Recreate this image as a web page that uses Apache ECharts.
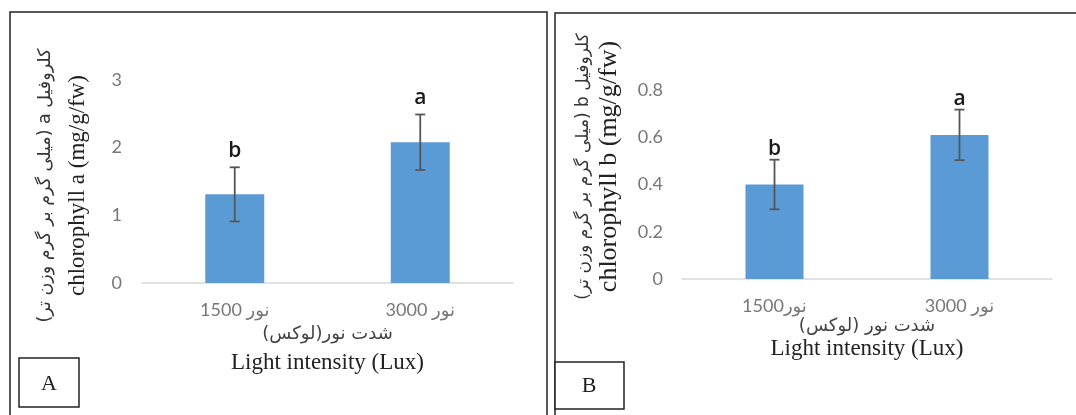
<!DOCTYPE html>
<html>
<head>
<meta charset="utf-8">
<script src="https://cdn.jsdelivr.net/npm/echarts@6/dist/echarts.min.js"></script>
<style>html,body{margin:0;padding:0;background:#fff;}#c{width:1076px;height:415px;}</style>
</head>
<body>
<div id="c"></div>
<script>
// ---- data ----
const categoriesA = ['1500 نور', '3000 نور'];
const categoriesB = ['1500نور', '3000 نور'];
const chlorophyllA = [1.31, 2.08];
const chlorophyllAErr = [0.40, 0.41];
const chlorophyllB = [0.40, 0.61];
const chlorophyllBErr = [0.105, 0.107];
const lettersA = ['b', 'a'];
const lettersB = ['b', 'a'];
const yTicksA = { min: 0, max: 3, interval: 1 };
const yTicksB = { min: 0, max: 0.8, interval: 0.2 };

const RLE = '\u202B', PDF = '\u202C';
const faFont = '"DejaVu Sans", "Noto Sans", sans-serif';
const serif = '"Liberation Serif", "DejaVu Serif", serif';
const tickFont = 'Lato, "DejaVu Sans", sans-serif';

const chart = echarts.init(document.getElementById('c'));

function errSeries(xi, yi, vals, errs, letters, letterGap) {
  return {
    type: 'custom', xAxisIndex: xi, yAxisIndex: yi, z: 5,
    data: vals.map((v, i) => [i, v, errs[i], letters[i]]),
    renderItem: function (params, api) {
      const x = api.value(0), v = api.value(1), e = api.value(2);
      const hi = api.coord([x, v + e]);
      const lo = api.coord([x, v - e]);
      const cw = 5;
      const st = { stroke: '#555', lineWidth: 1.8 };
      return {
        type: 'group',
        children: [
          { type: 'line', shape: { x1: hi[0], y1: hi[1], x2: lo[0], y2: lo[1] }, style: st },
          { type: 'line', shape: { x1: hi[0] - cw, y1: hi[1], x2: hi[0] + cw, y2: hi[1] }, style: st },
          { type: 'line', shape: { x1: lo[0] - cw, y1: lo[1], x2: lo[0] + cw, y2: lo[1] }, style: st },
          { type: 'text', x: hi[0], y: hi[1] - letterGap,
            style: { text: letters[params.dataIndex], fill: '#1a1a1a', font: '600 21px "Open Sans", sans-serif', align: 'center', verticalAlign: 'middle' } }
        ]
      };
    }
  };
}

const axisLineStyle = { color: '#d9d9d9', width: 1.5 };

const option = {
  animation: false,
  grid: [
    { left: 142, top: 80, width: 371, height: 203, outerBoundsMode: 'none' },
    { left: 682, top: 90, width: 370, height: 189, outerBoundsMode: 'none' }
  ],
  xAxis: [
    {
      type: 'category', gridIndex: 0, data: categoriesA,
      axisLine: { lineStyle: axisLineStyle },
      axisTick: { length: 5, lineStyle: axisLineStyle },
      axisLabel: { color: '#777', fontFamily: tickFont, fontSize: 18, margin: 18 },
      name: '{fa|' + RLE + 'شدت نور(لوکس)' + PDF + '}\n{en|Light intensity (Lux)}',
      nameLocation: 'middle', nameGap: 37,
      nameTextStyle: {
        align: 'center', verticalAlign: 'top',
        rich: {
          fa: { fontFamily: faFont, fontSize: 18, color: '#444', lineHeight: 28, align: 'center' },
          en: { fontFamily: serif, fontSize: 23, color: '#222', lineHeight: 30, align: 'center' }
        }
      }
    },
    {
      type: 'category', gridIndex: 1, data: categoriesB,
      axisLine: { lineStyle: axisLineStyle },
      axisTick: { length: 5, lineStyle: axisLineStyle },
      axisLabel: { color: '#777', fontFamily: tickFont, fontSize: 18, margin: 18 },
      name: '{fa|' + RLE + 'شدت نور (لوکس)' + PDF + '}\n{en|Light intensity (Lux)}',
      nameLocation: 'middle', nameGap: 36,
      nameTextStyle: {
        align: 'center', verticalAlign: 'top',
        rich: {
          fa: { fontFamily: faFont, fontSize: 18, color: '#444', lineHeight: 22, align: 'center' },
          en: { fontFamily: serif, fontSize: 23, color: '#222', lineHeight: 24, align: 'center' }
        }
      }
    }
  ],
  yAxis: [
    {
      type: 'value', gridIndex: 0, min: yTicksA.min, max: yTicksA.max, interval: yTicksA.interval,
      splitLine: { show: false }, axisLine: { show: false }, axisTick: { show: false },
      axisLabel: { color: '#777', fontFamily: tickFont, fontSize: 18, margin: 20 },
      name: '{fa|' + RLE + 'کلروفیل a (میلی گرم بر گرم وزن تر)' + PDF + '}\n{en|chlorophyll a (mg/g/fw)}',
      nameLocation: 'middle', nameRotate: 90, nameGap: 49,
      nameTextStyle: {
        align: 'center', verticalAlign: 'bottom', padding: [0, 8, 0, 0],
        rich: {
          fa: { fontFamily: faFont, fontSize: 17.5, color: '#333', lineHeight: 36, align: 'center' },
          en: { fontFamily: serif, fontSize: 23, color: '#222', lineHeight: 30, align: 'center' }
        }
      }
    },
    {
      type: 'value', gridIndex: 1, min: yTicksB.min, max: yTicksB.max, interval: yTicksB.interval,
      splitLine: { show: false }, axisLine: { show: false }, axisTick: { show: false },
      axisLabel: { color: '#777', fontFamily: tickFont, fontSize: 18, margin: 19 },
      name: '{fa|' + RLE + 'کلروفیل b (میلی گرم بر گرم وزن تر)' + PDF + '}\n{en|chlorophyll b (mg/g/fw)}',
      nameLocation: 'middle', nameRotate: 90, nameGap: 61,
      nameTextStyle: {
        align: 'center', verticalAlign: 'bottom', padding: [0, 0, 0, 36],
        rich: {
          fa: { fontFamily: faFont, fontSize: 17, color: '#333', lineHeight: 26, align: 'center' },
          en: { fontFamily: serif, fontSize: 26, color: '#222', lineHeight: 24, align: 'center' }
        }
      }
    }
  ],
  series: [
    { type: 'bar', xAxisIndex: 0, yAxisIndex: 0, data: chlorophyllA, barWidth: 59, itemStyle: { color: '#5B9BD5' } },
    errSeries(0, 0, chlorophyllA, chlorophyllAErr, lettersA, 16),
    { type: 'bar', xAxisIndex: 1, yAxisIndex: 1, data: chlorophyllB, barWidth: 58, itemStyle: { color: '#5B9BD5' } },
    errSeries(1, 1, chlorophyllB, chlorophyllBErr, lettersB, 11)
  ],
  graphic: [
    { type: 'rect', shape: { x: 10, y: 12, width: 537, height: 430 }, style: { fill: 'none', stroke: '#222', lineWidth: 1.5 }, silent: true },
    { type: 'rect', shape: { x: 555, y: 13, width: 540, height: 430 }, style: { fill: 'none', stroke: '#222', lineWidth: 1.5 }, silent: true },
    { type: 'rect', shape: { x: 19, y: 358, width: 60, height: 49 }, style: { fill: '#fff', stroke: '#222', lineWidth: 1.5 }, silent: true },
    { type: 'text', x: 49, y: 384, style: { text: 'A', font: '22px "Liberation Serif", serif', fill: '#222', align: 'center', verticalAlign: 'middle' } },
    { type: 'rect', shape: { x: 555, y: 362, width: 69, height: 47 }, style: { fill: '#fff', stroke: '#222', lineWidth: 1.5 }, silent: true },
    { type: 'text', x: 589, y: 386, style: { text: 'B', font: '22px "Liberation Serif", serif', fill: '#222', align: 'center', verticalAlign: 'middle' } }
  ]
};
chart.setOption(option);
</script>
</body>
</html>
